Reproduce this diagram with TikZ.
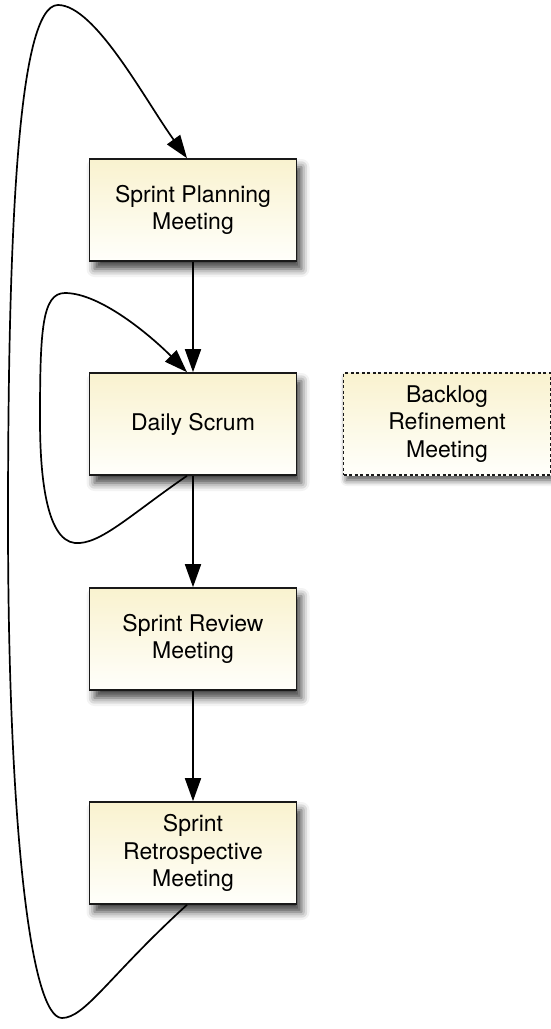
\documentclass[tikz,border=0pt]{standalone}
\usepackage{fontspec}
\setmainfont{TeX Gyre Heros}
\usetikzlibrary{arrows.meta,shadows.blur}
\definecolor{paleyellow}{HTML}{F9F2CF}
\definecolor{creamwhite}{HTML}{FFFFFB}
\begin{document}
\begin{tikzpicture}[
    x=1pt, y=-1pt,
    meeting/.style={
      draw=black!90,
      line width=1.6pt,
      top color=paleyellow,
      bottom color=creamwhite,
      minimum width=207pt,
      minimum height=102pt,
      align=center,
      inner sep=2pt,
      font=\fontsize{23}{27.5}\selectfont,
      blur shadow={shadow xshift=5pt, shadow yshift=-8pt, shadow blur radius=8pt, shadow opacity=75}
    },
    flow/.style={
      line width=1.7pt,
      -{Triangle[length=23pt,width=16pt]}
    }
  ]
    \useasboundingbox (0,0) rectangle (551,1029);

    \node[meeting] (planning) at (193,210) {Sprint Planning\\Meeting};
    \node[meeting] (daily) at (193,424) {Daily Scrum};
    \node[meeting] (review) at (193,639) {Sprint Review\\Meeting};
    \node[meeting] (retro) at (193,853) {Sprint\\Retrospective\\Meeting};
    \node[meeting,dash pattern=on 3pt off 2.5pt,line width=1.4pt,
      blur shadow={shadow xshift=3pt, shadow yshift=-5pt, shadow blur radius=6pt, shadow opacity=40}]
      (backlog) at (447,424) {Backlog\\Refinement\\Meeting};

    \draw[flow] (planning) -- (daily);
    \draw[flow] (daily) -- (review);
    \draw[flow] (review) -- (retro);

    \draw[flow] ([xshift=-6pt]daily.south)
      .. controls (130,515) and (100,545) .. (75,543)
      .. controls (45,540) and (40,470) .. (40,420)
      .. controls (40,330) and (42,293) .. (65,293)
      .. controls (100,293) and (150,335) .. ([xshift=-6pt]daily.north);

    \draw[flow] ([xshift=-6pt]retro.south)
      .. controls (110,975) and (85,1018) .. (62,1018)
      .. controls (30,1018) and (8,820) .. (8,520)
      .. controls (8,230) and (18,5) .. (58,5)
      .. controls (95,5) and (145,100) .. ([xshift=-6pt]planning.north);
  \end{tikzpicture}
\end{document}
